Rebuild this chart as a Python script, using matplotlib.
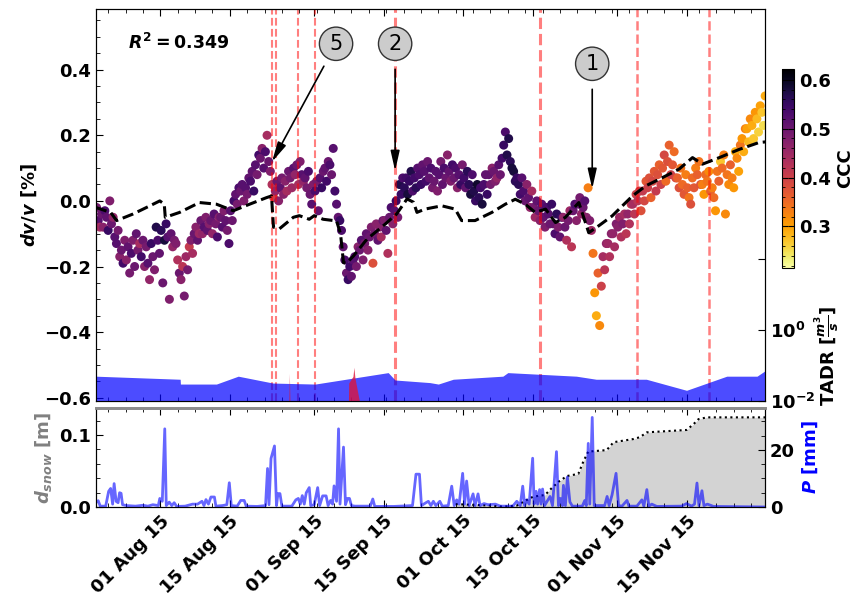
import numpy as np
import pandas as pd
import matplotlib
matplotlib.use('Agg')
import matplotlib.pyplot as plt
import matplotlib.dates as mdates
from matplotlib.ticker import MultipleLocator, AutoMinorLocator, NullLocator, FixedLocator, FixedFormatter

plt.rcParams.update({
    'font.family': 'DejaVu Sans',
    'font.size': 13,
    'font.weight': 'bold',
    'axes.labelweight': 'bold',
    'mathtext.fontset': 'custom',
    'mathtext.rm': 'DejaVu Sans:bold',
    'mathtext.it': 'DejaVu Sans:italic:bold',
    'mathtext.bf': 'DejaVu Sans:bold',
    'xtick.direction': 'in',
    'ytick.direction': 'in',
})

START = '2015-07-19'

# dv/v [%] and coherence (CCC), three samples per day
dvv = [
    -0.02, -0.06, -0.08, -0.04, -0.08, -0.03, -0.05, -0.09, 0.00, -0.07, -0.05, -0.11, -0.13, -0.09, -0.17,
    -0.15, -0.19, -0.12, -0.18, -0.14, -0.22, -0.16, -0.12, -0.20, -0.10, -0.15, -0.13, -0.17, -0.12, -0.20,
    -0.14, -0.19, -0.24, -0.13, -0.17, -0.21, -0.08, -0.12, -0.16, -0.09, -0.25, -0.12, -0.07, -0.11, -0.30,
    -0.10, -0.14, -0.12, -0.13, -0.18, -0.22, -0.24, -0.20, -0.29, -0.17, -0.21, -0.14, -0.12, -0.16, -0.10,
    -0.08, -0.12, -0.10, -0.06, -0.10, -0.08, -0.05, -0.09, -0.07, -0.06, -0.10, -0.04, -0.07, -0.11, -0.05,
    -0.05, -0.08, -0.03, -0.06, -0.09, -0.13, -0.03, -0.06, 0.00, 0.02, -0.01, 0.04, 0.03, 0.05, 0.00,
    0.04, 0.02, 0.07, 0.06, 0.09, 0.03, 0.11, 0.08, 0.14, 0.13, 0.16, 0.10, 0.15, 0.20, 0.12,
    0.09, 0.05, 0.01, 0.03, 0.06, 0.00, 0.04, 0.07, 0.02, 0.06, 0.03, 0.09, 0.07, 0.04, 0.10,
    0.08, 0.11, 0.05, 0.12, 0.08, 0.06, 0.07, 0.04, 0.09, 0.02, -0.01, 0.05, 0.03, 0.06, -0.03,
    0.07, 0.04, 0.09, 0.10, 0.06, 0.12, 0.11, 0.08, 0.16, 0.03, -0.01, -0.05, -0.06, -0.09, -0.14,
    -0.18, -0.22, -0.24, -0.20, -0.23, -0.18, -0.17, -0.20, -0.14, -0.15, -0.12, -0.18, -0.13, -0.10, -0.15,
    -0.11, -0.08, -0.19, -0.10, -0.07, -0.12, -0.08, -0.11, -0.06, -0.06, -0.09, -0.16, -0.05, -0.02, -0.07,
    -0.03, 0.00, -0.05, 0.05, 0.02, 0.07, 0.04, 0.07, 0.02, 0.06, 0.09, 0.03, 0.07, 0.04, 0.10,
    0.08, 0.05, 0.11, 0.09, 0.06, 0.12, 0.07, 0.10, 0.04, 0.06, 0.09, 0.03, 0.08, 0.12, 0.05,
    0.10, 0.07, 0.14, 0.09, 0.06, 0.11, 0.07, 0.10, 0.04, 0.08, 0.05, 0.11, 0.07, 0.04, 0.09,
    0.05, 0.02, 0.08, 0.03, 0.00, 0.05, 0.01, 0.04, -0.01, 0.05, 0.08, 0.02, 0.08, 0.05, 0.10,
    0.09, 0.06, 0.07, 0.11, 0.08, 0.13, 0.17, 0.21, 0.14, 0.19, 0.12, 0.10, 0.09, 0.06, 0.07,
    0.05, 0.02, 0.07, 0.03, 0.00, 0.05, 0.01, -0.02, 0.03, -0.02, -0.05, 0.00, -0.03, -0.06, -0.01,
    -0.05, -0.08, -0.02, -0.04, -0.07, -0.01, -0.07, -0.10, -0.04, -0.08, -0.11, -0.05, -0.05, -0.08, -0.12,
    -0.06, -0.03, -0.14, -0.03, -0.01, -0.06, -0.01, 0.01, -0.04, -0.02, 0.00, -0.05, 0.04, -0.06, -0.09,
    -0.16, -0.28, -0.35, -0.22, -0.38, -0.26, -0.17, -0.21, -0.13, -0.13, -0.17, -0.10, -0.10, -0.14, -0.07,
    -0.08, -0.05, -0.11, -0.07, -0.04, -0.10, -0.04, -0.07, -0.01, -0.01, -0.04, 0.02, 0.00, 0.03, -0.03,
    0.03, 0.00, 0.06, 0.04, 0.07, 0.01, 0.06, 0.09, 0.03, 0.08, 0.11, 0.05, 0.10, 0.14, 0.06,
    0.12, 0.17, 0.08, 0.11, 0.15, 0.07, 0.07, 0.04, 0.10, 0.05, 0.02, 0.08, 0.04, 0.01, -0.01,
    0.07, 0.04, 0.10, 0.08, 0.12, 0.05, 0.05, 0.02, 0.08, 0.06, 0.09, 0.03, 0.04, 0.01, -0.03,
    0.09, 0.06, 0.12, 0.10, 0.14, -0.04, 0.08, 0.05, 0.11, 0.07, 0.04, 0.15, 0.13, 0.09, 0.17,
    0.19, 0.15, 0.22, 0.22, 0.18, 0.25, 0.23, 0.19, 0.27, 0.25, 0.21, 0.29, 0.27, 0.23, 0.32,
]
ccc = [
    0.49, 0.52, 0.44, 0.50, 0.47, 0.53, 0.51, 0.55, 0.48, 0.50, 0.46, 0.52, 0.52, 0.49, 0.47,
    0.50, 0.54, 0.48, 0.47, 0.51, 0.49, 0.53, 0.48, 0.50, 0.51, 0.49, 0.44, 0.54, 0.50, 0.47,
    0.49, 0.52, 0.46, 0.55, 0.50, 0.48, 0.57, 0.53, 0.51, 0.56, 0.50, 0.58, 0.55, 0.52, 0.48,
    0.51, 0.46, 0.49, 0.48, 0.43, 0.50, 0.47, 0.42, 0.49, 0.45, 0.49, 0.41, 0.48, 0.44, 0.50,
    0.47, 0.51, 0.45, 0.50, 0.46, 0.52, 0.48, 0.51, 0.47, 0.50, 0.46, 0.52, 0.49, 0.53, 0.47,
    0.50, 0.52, 0.48, 0.51, 0.49, 0.53, 0.52, 0.50, 0.54, 0.51, 0.49, 0.53, 0.50, 0.52, 0.48,
    0.52, 0.49, 0.51, 0.53, 0.51, 0.55, 0.52, 0.49, 0.54, 0.50, 0.47, 0.52, 0.53, 0.44, 0.50,
    0.48, 0.43, 0.40, 0.46, 0.50, 0.47, 0.51, 0.49, 0.47, 0.47, 0.44, 0.50, 0.49, 0.45, 0.52,
    0.46, 0.50, 0.44, 0.48, 0.52, 0.46, 0.51, 0.49, 0.53, 0.50, 0.52, 0.48, 0.53, 0.49, 0.51,
    0.52, 0.55, 0.50, 0.51, 0.54, 0.50, 0.53, 0.50, 0.52, 0.54, 0.52, 0.51, 0.55, 0.53, 0.51,
    0.53, 0.50, 0.55, 0.54, 0.51, 0.52, 0.52, 0.49, 0.47, 0.50, 0.52, 0.48, 0.49, 0.51, 0.47,
    0.50, 0.48, 0.38, 0.49, 0.47, 0.51, 0.47, 0.44, 0.50, 0.48, 0.51, 0.43, 0.50, 0.53, 0.47,
    0.52, 0.55, 0.49, 0.57, 0.55, 0.53, 0.56, 0.54, 0.58, 0.55, 0.57, 0.53, 0.54, 0.56, 0.52,
    0.53, 0.55, 0.51, 0.52, 0.54, 0.50, 0.51, 0.53, 0.49, 0.50, 0.52, 0.48, 0.52, 0.49, 0.51,
    0.53, 0.50, 0.47, 0.51, 0.48, 0.54, 0.50, 0.53, 0.47, 0.52, 0.55, 0.49, 0.54, 0.51, 0.56,
    0.56, 0.58, 0.53, 0.57, 0.55, 0.59, 0.56, 0.54, 0.58, 0.53, 0.51, 0.55, 0.51, 0.49, 0.47,
    0.50, 0.48, 0.46, 0.52, 0.50, 0.54, 0.55, 0.53, 0.57, 0.57, 0.56, 0.58, 0.58, 0.56, 0.55,
    0.56, 0.54, 0.52, 0.53, 0.50, 0.47, 0.51, 0.46, 0.44, 0.49, 0.45, 0.51, 0.50, 0.47, 0.52,
    0.51, 0.48, 0.53, 0.52, 0.50, 0.55, 0.50, 0.53, 0.56, 0.48, 0.51, 0.55, 0.46, 0.50, 0.43,
    0.49, 0.45, 0.42, 0.50, 0.53, 0.47, 0.51, 0.49, 0.46, 0.50, 0.52, 0.47, 0.33, 0.48, 0.45,
    0.34, 0.31, 0.29, 0.36, 0.32, 0.40, 0.44, 0.42, 0.46, 0.45, 0.43, 0.47, 0.46, 0.44, 0.48,
    0.47, 0.45, 0.43, 0.48, 0.44, 0.42, 0.46, 0.43, 0.41, 0.44, 0.42, 0.40, 0.42, 0.40, 0.38,
    0.41, 0.39, 0.37, 0.40, 0.38, 0.36, 0.39, 0.37, 0.41, 0.38, 0.36, 0.40, 0.37, 0.39, 0.35,
    0.38, 0.36, 0.40, 0.37, 0.35, 0.39, 0.36, 0.38, 0.34, 0.35, 0.37, 0.33, 0.36, 0.34, 0.38,
    0.35, 0.37, 0.33, 0.36, 0.34, 0.38, 0.33, 0.31, 0.35, 0.34, 0.32, 0.36, 0.33, 0.35, 0.31,
    0.34, 0.36, 0.27, 0.35, 0.33, 0.32, 0.34, 0.32, 0.36, 0.33, 0.31, 0.29, 0.32, 0.30, 0.34,
    0.31, 0.29, 0.33, 0.30, 0.28, 0.32, 0.29, 0.27, 0.31, 0.28, 0.26, 0.30, 0.27, 0.25, 0.29,
]

# modelled dv/v (days since start)
model_days = [0, 3, 4.2, 7.5, 10.9, 12.9, 13.8, 14.0, 16.9, 20.9, 24.3, 27.7, 31, 34.4, 35.4, 35.8,
              37, 39.8, 41, 43, 44, 45.8, 48.5, 49.3, 49.9, 50.5, 51.9, 54.6, 57.9, 60.6, 62.7,
              64.0, 64.7, 66.3, 69.7, 72.4, 73.7, 76.4, 79.8, 82.5, 84.5, 86.5, 88.5, 90.6, 92.6,
              94.6, 97.3, 99.3, 101.3, 104, 108.1, 110.8, 113.5, 117.5, 120.2, 122.2, 125.6,
              129.6, 133.6, 135]
model_dvv = [-0.02, -0.035, -0.06, -0.04, -0.015, 0.0, -0.01, -0.05, -0.035, -0.005, -0.01, -0.03,
             -0.01, 0.01, 0.015, -0.08, -0.085, -0.05, -0.045, -0.056, -0.045, -0.056, -0.061,
             -0.10, -0.188, -0.19, -0.168, -0.117, -0.076, -0.04, 0.006, -0.004, -0.035, -0.025,
             -0.015, -0.025, -0.06, -0.06, -0.035, -0.01, 0.005, -0.01, -0.035, -0.025, -0.066,
             -0.05, -0.005, -0.097, -0.076, -0.046, 0.015, 0.046, 0.066, 0.097, 0.132, 0.112,
             0.132, 0.157, 0.178, 0.18]

# detected events
event_days = [35.6, 36.4, 40.7, 44.2, 60.3, 89.4, 109.1, 123.6]

# discharge TADR [m3/s]
q_days = [0, 17, 17.05, 24.3, 28.7, 35.7, 44.2, 58.9, 60.3, 67.3, 69, 72, 82, 83, 96.8, 100.8,
          110.9, 119, 127.1, 133.2, 135]
q_vals = [0.050, 0.041, 0.030, 0.030, 0.050, 0.032, 0.030, 0.063, 0.039, 0.033, 0.030, 0.041,
          0.050, 0.063, 0.050, 0.041, 0.041, 0.020, 0.050, 0.050, 0.074]
q2_days = [38.9, 39.0, 39.1, 50.9, 50.95, 51.8, 52.0, 52.2, 53.1]
q2_vals = [0.01, 0.060, 0.01, 0.01, 0.032, 0.049, 0.089, 0.045, 0.01]

# precipitation [mm]
p_days = [0.0, 0.5, 0.9, 2.0, 2.6, 3.0, 3.4, 3.7, 4.1, 4.5, 4.8, 5.1, 5.4, 6.2, 8.0, 9.5, 10.5,
          11.5, 12.6, 12.9, 13.4, 13.9, 14.2, 14.8, 15.3, 15.8, 16.3, 18.0, 19.5, 20.5, 21.4,
          21.8, 22.2, 22.7, 23.2, 23.9, 24.2, 25.5, 26.4, 26.9, 27.3, 28.5, 29.2, 29.9, 30.3,
          32.5, 34.2, 34.6, 34.9, 35.3, 36.0, 36.4, 36.7, 37.1, 37.5, 39.5, 40.3, 40.8, 41.2,
          41.6, 42.0, 42.4, 43.0, 43.3, 44.0, 44.7, 45.1, 45.7, 46.4, 46.8, 47.3, 47.7, 48.0,
          48.5, 48.9, 49.2, 49.9, 50.3, 50.7, 51.1, 51.5, 52.2, 55.3, 55.8, 56.2, 60.0, 63.8,
          64.5, 65.2, 65.6, 66.5, 67.0, 67.5, 68.0, 68.5, 69.3, 69.8, 71.0, 71.7, 72.2, 72.7,
          73.2, 73.9, 74.3, 74.7, 75.2, 76.0, 76.4, 77.0, 77.4, 78.2, 79.0, 80.5, 81.5, 84.0,
          84.8, 85.5, 86.0, 86.4, 86.8, 87.3, 88.0, 88.3, 88.7, 89.0, 89.4, 89.7, 90.0, 90.4,
          91.5, 92.0, 92.8, 93.2, 93.6, 94.0, 94.2, 94.6, 95.0, 95.5, 96.0, 98.0, 98.5, 98.8,
          99.2, 99.5, 100.0, 100.4, 101.5, 102.5, 103.0, 103.4, 104.0, 104.8, 105.3, 106.0,
          107.0, 107.4, 109.0, 110.0, 110.4, 111.0, 111.4, 112.0, 113.0, 118.0, 119.0, 120.0,
          120.6, 121.1, 121.5, 122.1, 122.5, 123.2, 124.0, 124.4, 135.0]
p_mm = [1.5, 2.2, 0.3, 0.3, 5.5, 6.5, 1.0, 8.2, 2.0, 1.5, 5.0, 4.8, 0.8, 0.5, 0.3, 0.6, 0.3,
        0.8, 0.5, 3.0, 2.0, 27.4, 0.5, 1.7, 0.5, 1.5, 0.2, 0.3, 1.0, 1.0, 2.0,
        0.5, 2.6, 1.0, 3.5, 3.5, 0.3, 0.5, 0.8, 8.5, 0.5, 0.3, 2.3, 2.3, 0.3,
        0.2, 0.5, 13.5, 0.8, 17.0, 21.4, 0.5, 4.7, 4.7, 0.3, 0.3, 2.5, 3.0, 1.0,
        4.0, 1.0, 5.0, 6.8, 0.5, 0.8, 6.8, 0.5, 3.9, 3.9, 0.5, 2.3, 1.0, 7.4,
        2.0, 27.4, 1.0, 21.0, 0.8, 3.0, 3.0, 0.5, 0.3, 0.3, 2.8, 0.2, 0.2, 0.5,
        11.5, 11.5, 0.5, 1.5, 2.0, 0.5, 2.0, 0.5, 2.0, 0.3, 0.5, 7.3, 0.5, 2.5,
        1.0, 11.8, 1.0, 9.1, 0.5, 4.6, 0.5, 4.6, 0.5, 1.2, 0.8, 1.0, 0.3, 0.3,
        2.0, 0.5, 7.3, 0.5, 2.5, 1.0, 17.1, 1.0, 5.5, 1.0, 6.1, 1.0, 6.3, 0.5,
        3.7, 0.5, 19.4, 0.5, 3.0, 0.5, 7.6, 0.5, 10.5, 1.8, 0.3, 0.3, 2.3, 0.5,
        22.3, 1.0, 31.4, 0.5, 0.5, 0.5, 3.7, 0.5, 4.3, 11.8, 0.5, 0.3,
        2.3, 0.3, 0.3, 2.5, 0.3, 6.1, 0.3, 1.0, 0.2, 0.3, 1.2, 0.3,
        1.0, 8.4, 0.5, 5.7, 0.5, 1.0, 0.5, 0.2, 0.0]

# snow depth [m]
snow_days = [72.5, 79.5, 82, 84.8, 86.8, 88.1, 90.5, 91.8, 93.2, 94.9, 97.2, 98.2, 99.2, 102.9,
             104.3, 108.3, 109.6, 111, 119, 120.4, 121.4, 123.1, 135]
snow_m = [0.004, 0.002, 0.0005, 0.002, 0.0097, 0.0144, 0.0167, 0.026, 0.035, 0.043, 0.046, 0.063,
          0.077, 0.079, 0.090, 0.0944, 0.097, 0.1037, 0.107, 0.115, 0.122, 0.1245, 0.1245]

base = mdates.date2num(np.datetime64(START))
t = mdates.date2num(pd.date_range(START + ' 04:00', periods=len(dvv), freq='8h').to_numpy())


def days(d):
    return base + np.asarray(d, dtype=float)


fig = plt.figure(figsize=(8.58, 6.04), dpi=100)
ax = fig.add_axes([96 / 858, 203 / 604, 669 / 858, 392 / 604])
axb = fig.add_axes([96 / 858, 97 / 604, 669 / 858, 99 / 604], sharex=ax)
cax = fig.add_axes([782 / 858, 336 / 604, 12 / 858, 199 / 604])

# --- top panel: dv/v ---
for d, lw in zip(event_days, [1.5, 1.5, 1.5, 1.5, 2.2, 2.2, 1.8, 1.8]):
    ax.axvline(days(d), color='red', alpha=0.5, ls='--', lw=lw, zorder=2.5)
sc = ax.scatter(t, dvv, c=ccc, cmap='inferno_r', vmin=0.215, vmax=0.622, s=42,
                edgecolors='none', zorder=2)
ax.plot(days(model_days), model_dvv, 'k--', lw=2.2, zorder=3)

ax.set_ylim(-0.61, 0.585)
ax.yaxis.set_major_locator(MultipleLocator(0.2))
ax.yaxis.set_minor_locator(MultipleLocator(0.05))
ax.set_ylabel(r'$dv/v$ [%]')
ax.text(0.048, 0.913, r'$R^2 = 0.349$', transform=ax.transAxes, fontsize=12.5, va='center')

circ = dict(boxstyle='circle,pad=0.32', fc='0.8', ec='0.2', lw=1)
arrow = dict(arrowstyle='-|>,head_length=0.8,head_width=0.18', color='k', lw=1.2,
             mutation_scale=15, shrinkA=6, shrinkB=0)
for lab, dx, vx, dt, vt in [('5', 35.5, 0.119, 48.4, 0.479),
                            ('2', 60.3, 0.0915, 60.3, 0.479),
                            ('1', 100.0, 0.037, 100.0, 0.418)]:
    ax.annotate(lab, xy=(days(dx), vx), xytext=(days(dt), vt), ha='center', va='center',
                fontsize=15, fontweight='normal', bbox=circ, arrowprops=arrow, zorder=5)

ax_q = ax.twinx()
ax_q.fill_between(days(q_days), 1e-2, q_vals, color='blue', alpha=0.7, lw=0)
ax_q.fill_between(days(q2_days), 1e-2, q2_vals, color='crimson', alpha=0.8, lw=0)
ax_q.set_yscale('log')
ax_q.set_ylim(1e-2, 1.1e9)
ax_q.yaxis.set_major_locator(FixedLocator([1e-2, 1e0, 1e2]))
ax_q.yaxis.set_major_formatter(FixedFormatter([r'$10^{-2}$', r'$10^{0}$', '']))
ax_q.yaxis.set_minor_locator(NullLocator())
ax_q.set_ylabel(r'TADR [$\frac{m^3}{s}$]')
ax_q.yaxis.set_label_coords(1.072, 0.115)

ax.xaxis.set_major_locator(mdates.DayLocator(bymonthday=[1, 15]))
ax.xaxis.set_major_formatter(mdates.DateFormatter('%d %b %y'))
ax.xaxis.set_minor_locator(AutoMinorLocator(4))
ax.set_xlim(base + 0.05, base + 134.8)
ax.tick_params(which='both', top=True, bottom=True, labelbottom=False)
ax.tick_params(which='major', length=5)
ax.tick_params(which='minor', length=3)
ax_q.tick_params(which='major', length=5)

# colourbar
cb = fig.colorbar(sc, cax=cax)
cb.set_ticks([0.3, 0.4, 0.5, 0.6])
cb.ax.yaxis.set_minor_locator(MultipleLocator(0.02))
cb.ax.tick_params(which='both', direction='in', left=True)
cb.ax.tick_params(which='major', length=4)
cb.ax.tick_params(which='minor', length=2)
cb.set_label('CCC', fontweight='bold')

# --- bottom panel: snow depth and precipitation ---
axb.fill_between(days(snow_days), 0, snow_m, color='lightgray', lw=0)
axb.plot(days(snow_days), snow_m, 'k:', lw=1.5)
axb.set_ylim(0, 0.1375)
axb.yaxis.set_major_locator(MultipleLocator(0.1))
axb.yaxis.set_minor_locator(MultipleLocator(0.02))
axb.set_ylabel(r'$d_{snow}$ [m]', color='gray')
axb.tick_params(which='both', top=True, bottom=True)
axb.tick_params(which='major', length=5)
axb.tick_params(which='minor', length=3)

ax_p = axb.twinx()
ax_p.plot(days(p_days), p_mm, color='blue', alpha=0.6, lw=2)
ax_p.set_ylim(0, 34.7)
ax_p.yaxis.set_major_locator(MultipleLocator(20))
ax_p.yaxis.set_minor_locator(MultipleLocator(5))
ax_p.set_ylabel(r'$P$ [mm]', color='blue')
ax_p.tick_params(which='major', length=5)
ax_p.tick_params(which='minor', length=3)
for a in (axb, ax_p):
    a.spines['top'].set_color('0.55')
    a.spines['top'].set_linewidth(2)

for lbl in axb.get_xticklabels():
    lbl.set_rotation(45)
    lbl.set_ha('right')
    lbl.set_rotation_mode('anchor')

fig.savefig('out.png', dpi=100)
